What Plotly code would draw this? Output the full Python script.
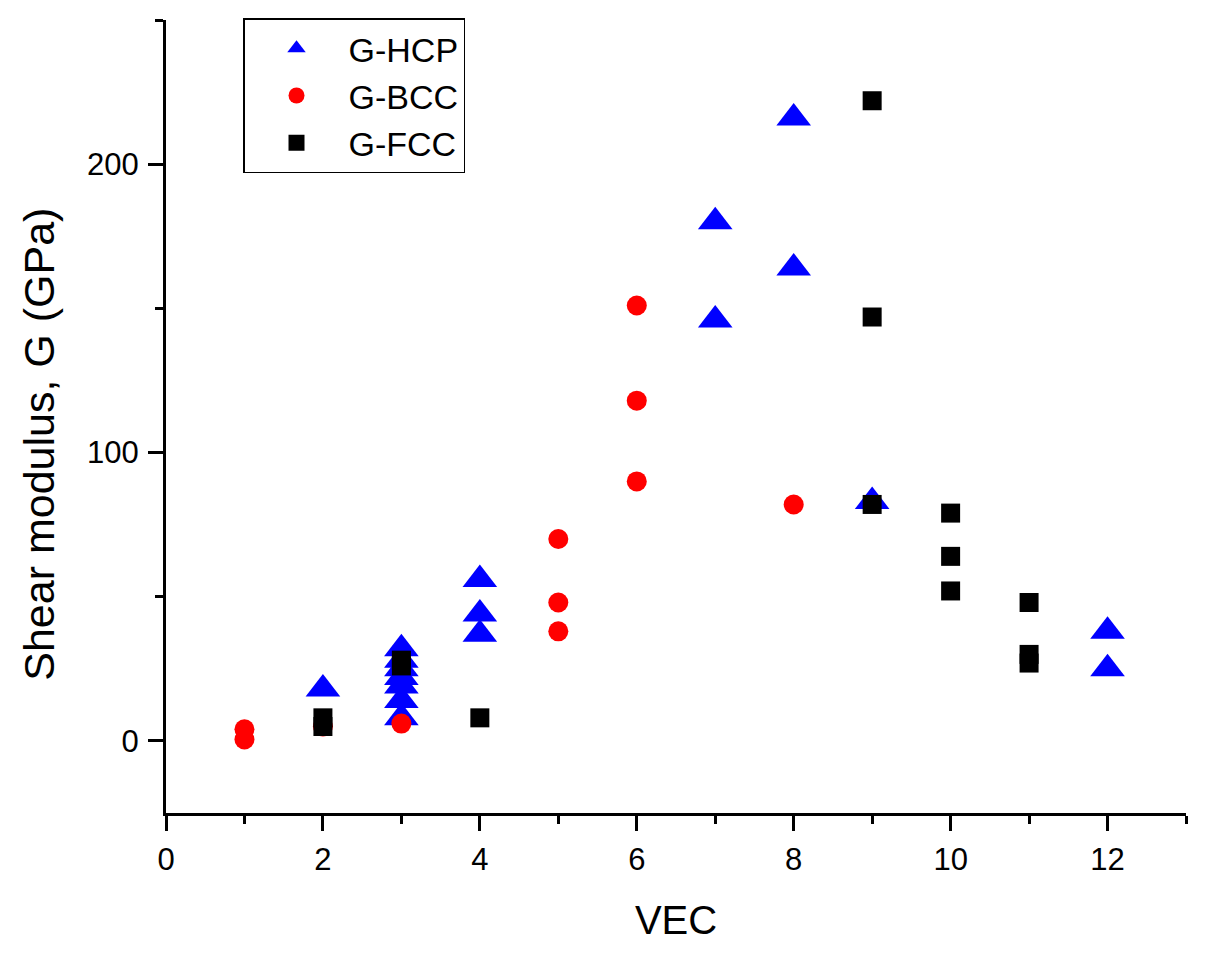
import plotly.graph_objects as go

# G vs VEC
hcp_vec = [2, 3, 3, 3, 3, 3, 3, 3, 4, 4, 4, 7, 7, 8, 8, 9, 12, 12]
hcp_g = [18, 32, 28, 25, 22, 19, 14, 8, 56, 44, 37, 180, 146, 216, 164, 83, 38, 25]

bcc_vec = [1, 1, 2, 3, 5, 5, 5, 6, 6, 6, 8]
bcc_g = [4, 0.5, 5, 6, 70, 48, 38, 151, 118, 90, 82]

fcc_vec = [2, 2, 3, 3, 4, 9, 9, 9, 10, 10, 10, 11, 11, 11]
fcc_g = [8, 5, 28, 26, 8, 222, 147, 82, 79, 64, 52, 48, 30, 27]

FONT = "Liberation Sans, Arial, sans-serif"

fig = go.Figure()
fig.add_trace(go.Scatter(x=hcp_vec, y=hcp_g, mode="markers", name="G-HCP",
                         marker=dict(symbol="triangle-up", size=30, color="#0000FF")))
fig.add_trace(go.Scatter(x=bcc_vec, y=bcc_g, mode="markers", name="G-BCC",
                         marker=dict(symbol="circle", size=20, color="#FF0000")))
fig.add_trace(go.Scatter(x=fcc_vec, y=fcc_g, mode="markers", name="G-FCC",
                         marker=dict(symbol="square", size=19, color="#000000")))

axis_common = dict(
    showline=True, linewidth=3, linecolor="black", mirror=False,
    showgrid=False, zeroline=False,
    ticks="outside", ticklen=15, tickwidth=3, tickcolor="black",
    tickfont=dict(family=FONT, size=31, color="black"),
)

fig.update_xaxes(range=[0, 13], tickmode="linear", tick0=0, dtick=2,
                 minor=dict(dtick=1, ticks="outside", ticklen=8, tickwidth=3, tickcolor="black"),
                 ticklabelstandoff=2,
                 title=dict(text="VEC", font=dict(family=FONT, size=40, color="black"), standoff=30),
                 **axis_common)
fig.update_yaxes(range=[-25, 250], tickmode="linear", tick0=0, dtick=100,
                 minor=dict(dtick=50, ticks="outside", ticklen=8, tickwidth=3, tickcolor="black"),
                 ticklabelstandoff=3,
                 **axis_common)

# y title as a rotated annotation (sits a bit below the axis centre in the original)
fig.add_annotation(text="Shear modulus, G (GPa)", textangle=-90,
                   xref="paper", yref="paper", x=-0.124, y=0.465,
                   xanchor="center", yanchor="middle", showarrow=False,
                   font=dict(family=FONT, size=43, color="black"))

# page body adds an 8px offset, so the figure is drawn 16px smaller than the window
fig.update_layout(
    width=1200, height=937,
    margin=dict(l=158, r=22, t=11, b=132),
    paper_bgcolor="white", plot_bgcolor="white",
    font=dict(family=FONT, color="black"),
    legend=dict(x=0.0755, y=1.001, xanchor="left", yanchor="top",
                bordercolor="black", borderwidth=1.5, bgcolor="white",
                font=dict(family=FONT, size=34, color="black"),
                itemwidth=94, tracegroupgap=0),
)

fig.write_html("out.html")
